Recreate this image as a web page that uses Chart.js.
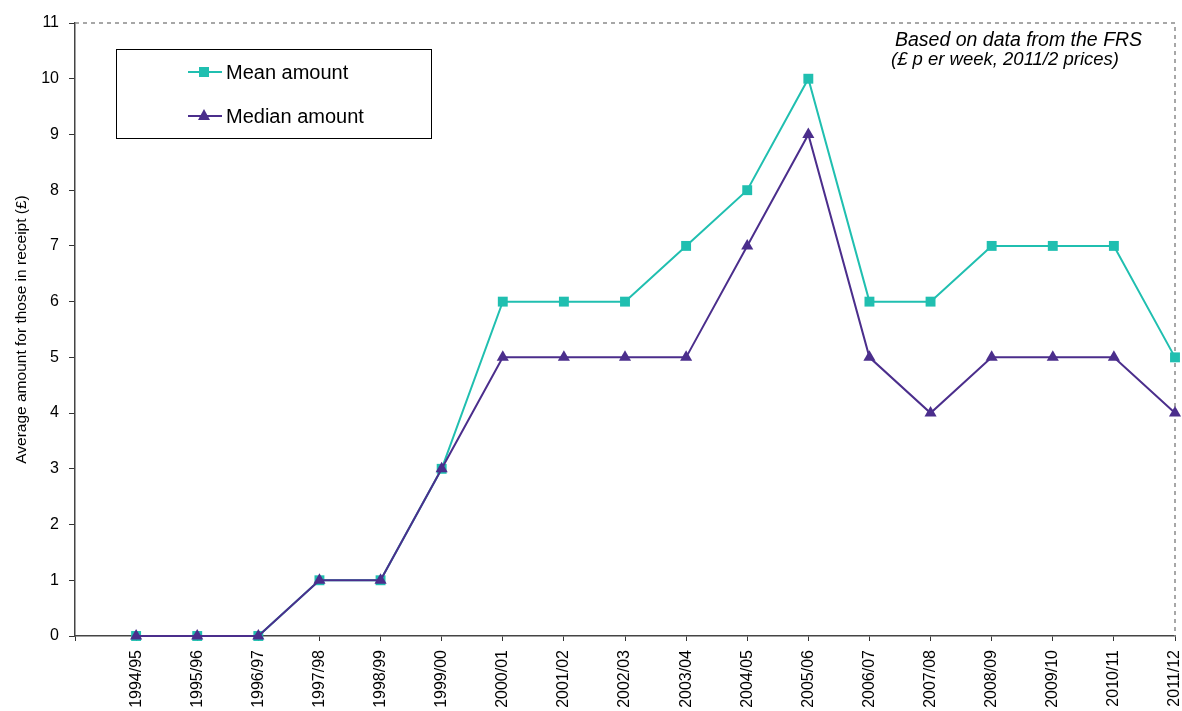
<!DOCTYPE html>
<html>
<head>
<meta charset="utf-8">
<title>Average amount for those in receipt</title>
<script src="https://cdn.jsdelivr.net/npm/chart.js@4.4.1/dist/chart.umd.min.js"></script>
<style>
  html, body { margin: 0; padding: 0; background: #fff; }
  #wrap { width: 1182px; height: 711px; overflow: hidden; }
</style>
</head>
<body>
<div id="wrap"><canvas id="chart" width="1182" height="711"></canvas></div>
<script>
/* ---- Data ---- */
const years = [
  '1994/95', '1995/96', '1996/97', '1997/98', '1998/99', '1999/00',
  '2000/01', '2001/02', '2002/03', '2003/04', '2004/05', '2005/06',
  '2006/07', '2007/08', '2008/09', '2009/10', '2010/11', '2011/12'
];
const meanAmount   = [0, 0, 0, 1, 1, 3, 6, 6, 6, 7, 8, 10, 6, 6, 7, 7, 7, 5];
const medianAmount = [0, 0, 0, 1, 1, 3, 5, 5, 5, 5, 7, 9, 5, 4, 5, 5, 5, 4];
const yTicks       = [0, 1, 2, 3, 4, 5, 6, 7, 8, 9, 10, 11];

const TEAL   = '#20bfb0';
const PURPLE = '#4b2e8c';
const FONT   = '"Liberation Sans", Arial, Helvetica, sans-serif';

/* x is linear so the first year sits one step in from the y axis, as in the original */
const toPoints = arr => arr.map((v, i) => ({ x: i, y: v }));

/* ---- Plot frame: dashed top/right edges ---- */
const framePlugin = {
  id: 'frame',
  beforeDatasetsDraw(chart) {
    const { ctx, chartArea: a } = chart;
    ctx.save();
    ctx.strokeStyle = '#8a8a8a';
    ctx.lineWidth = 1.5;
    ctx.setLineDash([4, 4]);
    ctx.beginPath();
    ctx.moveTo(a.left, a.top);
    ctx.lineTo(a.right, a.top);
    ctx.lineTo(a.right, a.bottom);
    ctx.stroke();
    ctx.restore();
  }
};

/* ---- Boxed legend + source note ---- */
const notesPlugin = {
  id: 'notes',
  afterDraw(chart) {
    const ctx = chart.ctx;
    ctx.save();

    // legend box
    ctx.strokeStyle = '#000';
    ctx.lineWidth = 1;
    ctx.strokeRect(116.5, 49.5, 315, 89);

    const rows = [
      { label: 'Mean amount',   color: TEAL,   shape: 'rect',     y: 72 },
      { label: 'Median amount', color: PURPLE, shape: 'triangle', y: 116 },
    ];
    rows.forEach(r => {
      ctx.strokeStyle = r.color;
      ctx.fillStyle   = r.color;
      ctx.lineWidth   = 2;
      ctx.beginPath();
      ctx.moveTo(188, r.y);
      ctx.lineTo(222, r.y);
      ctx.stroke();
      ctx.beginPath();
      if (r.shape === 'rect') {
        ctx.rect(199, r.y - 5, 10, 10);
      } else {
        ctx.moveTo(204, r.y - 7);
        ctx.lineTo(210, r.y + 4);
        ctx.lineTo(198, r.y + 4);
        ctx.closePath();
      }
      ctx.fill();

      ctx.fillStyle = '#000';
      ctx.font = '20px ' + FONT;
      ctx.textBaseline = 'middle';
      ctx.textAlign = 'left';
      ctx.fillText(r.label, 226, r.y + 1);
    });

    // source note
    ctx.fillStyle = '#000';
    ctx.textBaseline = 'alphabetic';
    ctx.font = 'italic 19.5px ' + FONT;
    ctx.fillText('Based on data from the FRS', 895, 46);
    ctx.font = 'italic 18.5px ' + FONT;
    ctx.fillText('(£ p er week, 2011/2 prices)', 891, 65);

    ctx.restore();
  }
};

new Chart(document.getElementById('chart'), {
  type: 'line',
  data: {
    datasets: [
      {
        label          : 'Mean amount',
        data           : toPoints(meanAmount),
        borderColor    : TEAL,
        backgroundColor: TEAL,
        borderWidth    : 2,
        pointStyle     : 'rect',
        pointRadius    : 7,
        pointBorderWidth: 0,
        tension        : 0,
        clip           : false,
        order          : 2,
      },
      {
        label          : 'Median amount',
        data           : toPoints(medianAmount),
        borderColor    : PURPLE,
        backgroundColor: PURPLE,
        borderWidth    : 2,
        pointStyle     : 'triangle',
        pointRadius    : 7,
        pointBorderWidth: 0,
        tension        : 0,
        clip           : false,
        order          : 1,
      },
    ],
  },
  options: {
    responsive: false,
    animation : false,
    devicePixelRatio: 1,
    layout: { padding: { top: 23, right: 7, left: 0, bottom: 0 } },
    plugins: {
      legend : { display: false },
      tooltip: { enabled: false },
    },
    scales: {
      x: {
        type: 'linear',
        min : -1,
        max : years.length - 1,
        afterFit: scale => {
          scale.height = 75;
          scale.paddingLeft = 0;
          scale.paddingRight = 0;
        },
        afterBuildTicks: scale => {
          scale.ticks = [-1, ...years.map((_, i) => i)].map(v => ({ value: v }));
        },
        ticks: {
          autoSkip   : false,
          minRotation: 90,
          maxRotation: 90,
          padding    : 9,
          color      : '#000',
          font       : { family: FONT, size: 16 },
          callback   : v => years[v] ?? '',
        },
        grid  : { drawOnChartArea: false, drawTicks: true, tickLength: 5, tickColor: '#333' },
        border: { display: true, color: '#444', width: 1.5, dash: [4, 2] },
      },
      y: {
        min: 0,
        max: yTicks[yTicks.length - 1],
        afterFit: scale => { scale.width = 75; },
        afterBuildTicks: scale => { scale.ticks = yTicks.map(v => ({ value: v })); },
        ticks: {
          padding: 10,
          color  : '#000',
          font   : { family: FONT, size: 16 },
        },
        title: {
          display: true,
          text   : 'Average amount for those in receipt (£)',
          color  : '#000',
          font   : { family: FONT, size: 15.5 },
          padding: { top: 12, bottom: 0 },
        },
        grid  : { drawOnChartArea: false, drawTicks: true, tickLength: 6, tickColor: '#333' },
        border: { display: true, color: '#444', width: 1.5, dash: [4, 2] },
      },
    },
  },
  plugins: [framePlugin, notesPlugin],
});
</script>
</body>
</html>
